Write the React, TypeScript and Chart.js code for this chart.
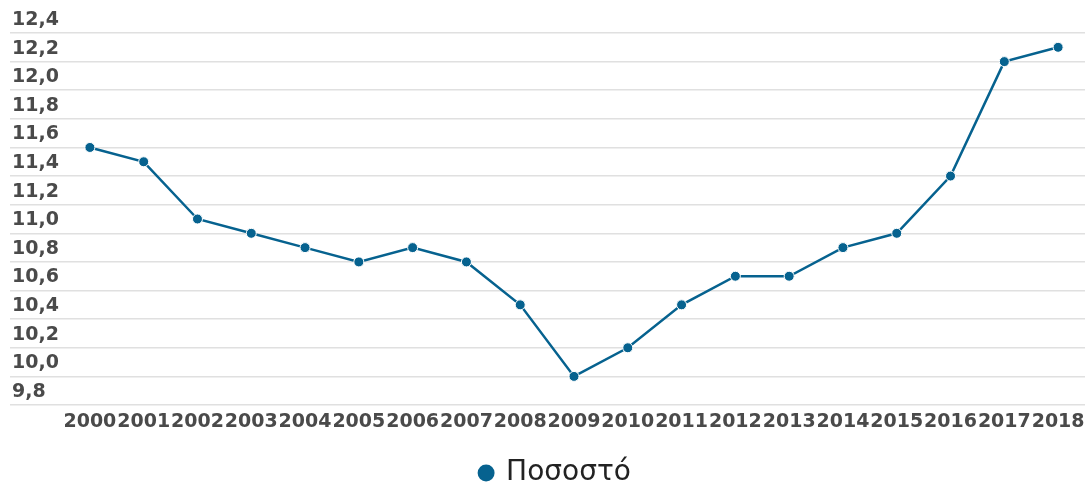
import { useEffect, useRef } from 'react';
import { Chart, registerables } from 'chart.js';

Chart.register(...registerables);

const years = ['2000', '2001', '2002', '2003', '2004', '2005', '2006', '2007', '2008', '2009', '2010', '2011', '2012', '2013', '2014', '2015', '2016', '2017', '2018'];
const values = [11.6, 11.5, 11.1, 11.0, 10.9, 10.8, 10.9, 10.8, 10.5, 10.0, 10.2, 10.5, 10.7, 10.7, 10.9, 11.0, 11.4, 12.2, 12.3];
const seriesLabel = 'Ποσοστό';
const yMin = 9.8;
const yMax = 12.4;
const yStep = 0.2;

const lineColor = '#06628f';
const gridColor = '#e0e0e0';
const tickColor = '#4a4a4a';

const legendShift = {
  id: 'legendShift',
  afterLayout(chart: any) {
    if (chart.legend) {
      chart.legend.left += 7;
      chart.legend.right += 7;
    }
  },
};

export default function App() {
  const canvasRef = useRef<HTMLCanvasElement | null>(null);

  useEffect(() => {
    const canvas = canvasRef.current;
    if (!canvas) return;
    const chart = new Chart(canvas, {
      type: 'line',
      data: {
        labels: years,
        datasets: [
          {
            label: seriesLabel,
            data: values,
            borderColor: lineColor,
            backgroundColor: lineColor,
            borderWidth: 2.5,
            pointRadius: 5,
            pointBorderWidth: 1,
            pointBorderColor: '#ffffff',
            pointBackgroundColor: lineColor,
            pointStyle: 'circle',
            tension: 0,
            fill: false,
          },
        ],
      },
      plugins: [legendShift],
      options: {
        animation: false,
        responsive: true,
        maintainAspectRatio: false,
        layout: { autoPadding: false, padding: { left: 12, right: 1, top: 33, bottom: 0 } },
        plugins: {
          tooltip: { enabled: false },
          legend: {
            position: 'bottom',
            labels: {
              usePointStyle: true,
              pointStyle: 'circle',
              boxWidth: 12,
              boxHeight: 12,
              padding: 4,
              color: '#222222',
              font: { family: 'DejaVu Sans', size: 28 },
              generateLabels: (c: any) =>
                Chart.defaults.plugins.legend.labels.generateLabels(c).map((l: any) => ({
                  ...l,
                  lineWidth: 0,
                  strokeStyle: lineColor,
                })),
            },
          },
        },
        scales: {
          x: {
            offset: true,
            grid: { display: false, drawTicks: false },
            border: { display: false },
            ticks: {
              autoSkip: false,
              maxRotation: 0,
              minRotation: 0,
              padding: 6,
              color: tickColor,
              font: { family: 'DejaVu Sans', weight: 'bold', size: 19 },
            },
            afterFit: (s: any) => {
              s.height = 50;
              s.paddingLeft = 0;
              s.paddingRight = 0;
            },
          },
          y: {
            min: yMin,
            max: yMax,
            border: { display: false },
            grid: {
              color: gridColor,
              lineWidth: 1.5,
              drawTicks: true,
              tickLength: 53,
              tickColor: gridColor,
            },
            ticks: {
              stepSize: yStep,
              crossAlign: 'far',
              labelOffset: -13,
              padding: 0,
              color: tickColor,
              font: { family: 'DejaVu Sans', weight: 'bold', size: 19 },
              callback: (v: any) => Number(v).toFixed(1).replace('.', ','),
            },
            afterFit: (s: any) => {
              s.width = 51;
              s.paddingTop = 0;
              s.paddingBottom = 0;
            },
          },
        },
      },
    });
    return () => chart.destroy();
  }, []);

  return (
    <div style={{ position: 'fixed', left: 0, top: 0, width: 1086, height: 497, background: '#ffffff' }}>
      <canvas ref={canvasRef} />
    </div>
  );
}
